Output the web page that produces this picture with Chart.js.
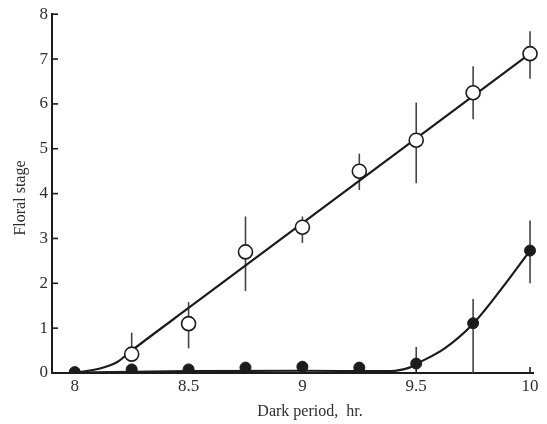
<!DOCTYPE html>
<html>
<head>
<meta charset="utf-8">
<script src="https://cdn.jsdelivr.net/npm/chart.js@4/dist/chart.umd.min.js"></script>
<style>
  html, body { margin: 0; padding: 0; background: #fff; }
  #wrap { width: 547px; height: 424px; position: relative; }
</style>
</head>
<body>
<div id="wrap"><canvas id="floralChart"></canvas></div>
<script>
// dark period (hr.) for each measured group
const darkPeriod = [8, 8.25, 8.5, 8.75, 9, 9.25, 9.5, 9.75, 10];

// open circles
const openStage = [null, 0.42, 1.1, 2.7, 3.25, 4.5, 5.19, 6.25, 7.12];
const openHigh  = [null, 0.9, 1.58, 3.49, 3.49, 4.89, 6.03, 6.84, 7.62];
const openLow   = [null, 0.42, 0.55, 1.83, 2.9, 4.08, 4.23, 5.66, 6.56];

// filled circles
const filledStage = [0.02, 0.08, 0.08, 0.12, 0.14, 0.12, 0.21, 1.11, 2.73];
const filledHigh  = [null, null, null, null, null, null, 0.58, 1.65, 3.4];
const filledLow   = [null, null, null, null, null, null, 0.21, 0, 2.0];

// fitted curves drawn by hand through the points
const openFitX = [8, 8.11, 8.185, 8.25, 8.5, 10];
const openFitY = [0, 0.1, 0.24, 0.5, 1.45, 7.12];
const filledFitX = [8, 8.5, 9, 9.35, 9.42, 9.47, 9.5, 9.625, 9.75, 9.875, 10];
const filledFitY = [0.01, 0.04, 0.05, 0.04, 0.06, 0.12, 0.2, 0.55, 1.1, 1.88, 2.73];

const xTicks = [8, 8.5, 9, 9.5, 10];
const yTicks = [0, 1, 2, 3, 4, 5, 6, 7, 8];

const ink = '#1c1c1c';
const textInk = '#2e2e2e';
const serif = '"Liberation Serif", "DejaVu Serif", serif';

const toPoints = (xs, ys) => xs.map((x, i) => ({ x: x, y: ys[i] })).filter(p => p.y !== null);

const errorBars = {
  id: 'errorBars',
  beforeDatasetsDraw(chart) {
    const { ctx, scales: { x, y } } = chart;
    ctx.save();
    ctx.strokeStyle = '#444';
    ctx.lineWidth = 1.6;
    const sets = [[openLow, openHigh], [filledLow, filledHigh]];
    sets.forEach(([lo, hi]) => {
      darkPeriod.forEach((d, i) => {
        if (lo[i] === null || hi[i] === null) return;
        const px = x.getPixelForValue(d);
        ctx.beginPath();
        ctx.moveTo(px, y.getPixelForValue(lo[i]));
        ctx.lineTo(px, y.getPixelForValue(hi[i]));
        ctx.stroke();
      });
    });
    ctx.restore();
  }
};

// inward tick marks and free-placed axis titles
const axisDecor = {
  id: 'axisDecor',
  afterDraw(chart) {
    const { ctx, scales: { x, y }, chartArea } = chart;
    ctx.save();
    ctx.strokeStyle = ink;
    ctx.lineWidth = 1.6;
    yTicks.forEach(v => {
      const py = y.getPixelForValue(v);
      ctx.beginPath();
      ctx.moveTo(chartArea.left, py);
      ctx.lineTo(chartArea.left + 6, py);
      ctx.stroke();
    });
    xTicks.forEach(v => {
      const px = x.getPixelForValue(v);
      ctx.beginPath();
      ctx.moveTo(px, chartArea.bottom);
      ctx.lineTo(px, chartArea.bottom - 6);
      ctx.stroke();
    });
    ctx.fillStyle = textInk;
    ctx.font = '16px ' + serif;
    ctx.textAlign = 'center';
    ctx.textBaseline = 'middle';
    ctx.fillText('Dark period,  hr.', 310, 412);
    ctx.translate(21, 198);
    ctx.rotate(-Math.PI / 2);
    ctx.fillText('Floral stage', 0, 0);
    ctx.restore();
  }
};

new Chart(document.getElementById('floralChart'), {
  type: 'scatter',
  data: {
    datasets: [
      {
        data: toPoints(darkPeriod, openStage),
        pointRadius: 7, pointBackgroundColor: '#fff', pointBorderColor: ink, pointBorderWidth: 1.6,
        showLine: false, order: 0, clip: false
      },
      {
        data: toPoints(darkPeriod, filledStage),
        pointRadius: 5.5, pointBackgroundColor: ink, pointBorderColor: ink, pointBorderWidth: 1,
        showLine: false, order: 0, clip: { left: 10, top: 10, right: 10, bottom: 0 }
      },
      {
        data: toPoints(openFitX, openFitY),
        showLine: true, pointRadius: 0, borderColor: ink, borderWidth: 2.2,
        cubicInterpolationMode: 'monotone', order: 1
      },
      {
        data: toPoints(filledFitX, filledFitY),
        showLine: true, pointRadius: 0, borderColor: ink, borderWidth: 2.2,
        cubicInterpolationMode: 'monotone', order: 1
      }
    ]
  },
  options: {
    responsive: true,
    maintainAspectRatio: false,
    animation: false,
    layout: { padding: { top: 11, right: 14, left: 0, bottom: 0 } },
    plugins: { legend: { display: false }, tooltip: { enabled: false } },
    scales: {
      x: {
        type: 'linear', min: 7.9, max: 10.013,
        afterBuildTicks: s => { s.ticks = xTicks.map(v => ({ value: v })); },
        afterFit: s => { s.height = 51; },
        grid: { display: false, drawTicks: false },
        border: { display: true, color: ink, width: 2 },
        ticks: { color: textInk, padding: 3, font: { family: serif, size: 17 }, maxRotation: 0, callback: v => String(v) }
      },
      y: {
        type: 'linear', min: 0, max: 8,
        afterBuildTicks: s => { s.ticks = yTicks.map(v => ({ value: v })); },
        afterFit: s => { s.width = 52; },
        grid: { display: false, drawTicks: false },
        border: { display: true, color: ink, width: 2 },
        ticks: { color: textInk, padding: 4, font: { family: serif, size: 17 } }
      }
    }
  },
  plugins: [errorBars, axisDecor]
});
</script>
</body>
</html>
